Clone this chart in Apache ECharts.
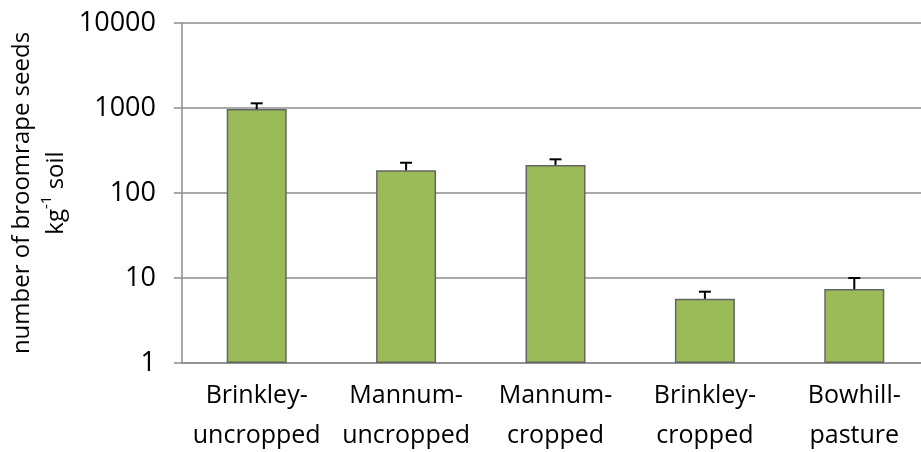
<!DOCTYPE html>
<html>
<head>
<meta charset="utf-8">
<script src="https://cdn.jsdelivr.net/npm/echarts@6/dist/echarts.min.js"></script>
<style>
  html, body { margin: 0; padding: 0; background: #fff; }
  #chart { width: 921px; height: 452px; }
</style>
</head>
<body>
<div id="chart"></div>
<script>
// Seed bank density by site and cropping history
const categories = ['Brinkley-\nuncropped', 'Mannum-\nuncropped', 'Mannum-\ncropped', 'Brinkley-\ncropped', 'Bowhill-\npasture'];
const seedCounts = [970, 185, 213, 5.7, 7.4];
const seedErrors = [165, 42, 36, 1.2, 2.6];
const yTicks = [1, 10, 100, 1000, 10000];

const FONT = '"Open Sans", sans-serif';
const chart = echarts.init(document.getElementById('chart'));

const errorData = seedCounts.map((v, i) => [i, v, v + seedErrors[i]]);

chart.setOption({
  animation: false,
  backgroundColor: '#ffffff',
  grid: { left: 182, right: -8, top: 23, bottom: 89, containLabel: false, outerBoundsMode: 'none' },
  xAxis: {
    type: 'category',
    data: categories,
    axisLine: { show: true, lineStyle: { color: '#8c8c8c', width: 1.5 } },
    axisTick: { show: false },
    axisLabel: {
      color: '#000', fontFamily: FONT, fontSize: 25, lineHeight: 40,
      margin: 13, interval: 0
    }
  },
  yAxis: {
    type: 'log',
    logBase: 10,
    min: yTicks[0],
    max: yTicks[yTicks.length - 1],
    axisLine: { show: true, lineStyle: { color: '#8c8c8c', width: 1.5 } },
    axisTick: { show: true, length: 8, lineStyle: { color: '#8c8c8c', width: 1.5 } },
    splitLine: { show: true, lineStyle: { color: '#8c8c8c', width: 1.5 } },
    minorTick: { show: false },
    axisLabel: {
      color: '#000', fontFamily: FONT, fontSize: 27, margin: 26,
      formatter: v => String(Math.round(v))
    },
    name: 'number of broomrape seeds\nkg{sup|-1} soil',
    nameLocation: 'middle',
    nameRotate: 90,
    nameGap: 109,
    nameMoveOverlap: false,
    nameTextStyle: {
      color: '#000', fontFamily: FONT, fontSize: 24, lineHeight: 34, align: 'center',
      rich: {
        sup: { fontFamily: FONT, fontSize: 15, verticalAlign: 'top', lineHeight: 34, padding: [0, 0, 8, 0] }
      }
    }
  },
  series: [
    {
      type: 'bar',
      data: seedCounts,
      barWidth: 60,
      itemStyle: { color: '#9bbb59', borderColor: '#646464', borderWidth: 1.5 },
      z: 2
    },
    {
      type: 'custom',
      data: errorData,
      z: 3,
      renderItem: (params, api) => {
        const base = api.coord([api.value(0), api.value(1)]);
        const top = api.coord([api.value(0), api.value(2)]);
        const half = 6;
        const style = { stroke: '#000', lineWidth: 2 };
        return {
          type: 'group',
          children: [
            { type: 'line', shape: { x1: base[0], y1: base[1], x2: top[0], y2: top[1] }, style },
            { type: 'line', shape: { x1: top[0] - half, y1: top[1], x2: top[0] + half, y2: top[1] }, style }
          ]
        };
      }
    }
  ]
});
</script>
</body>
</html>
